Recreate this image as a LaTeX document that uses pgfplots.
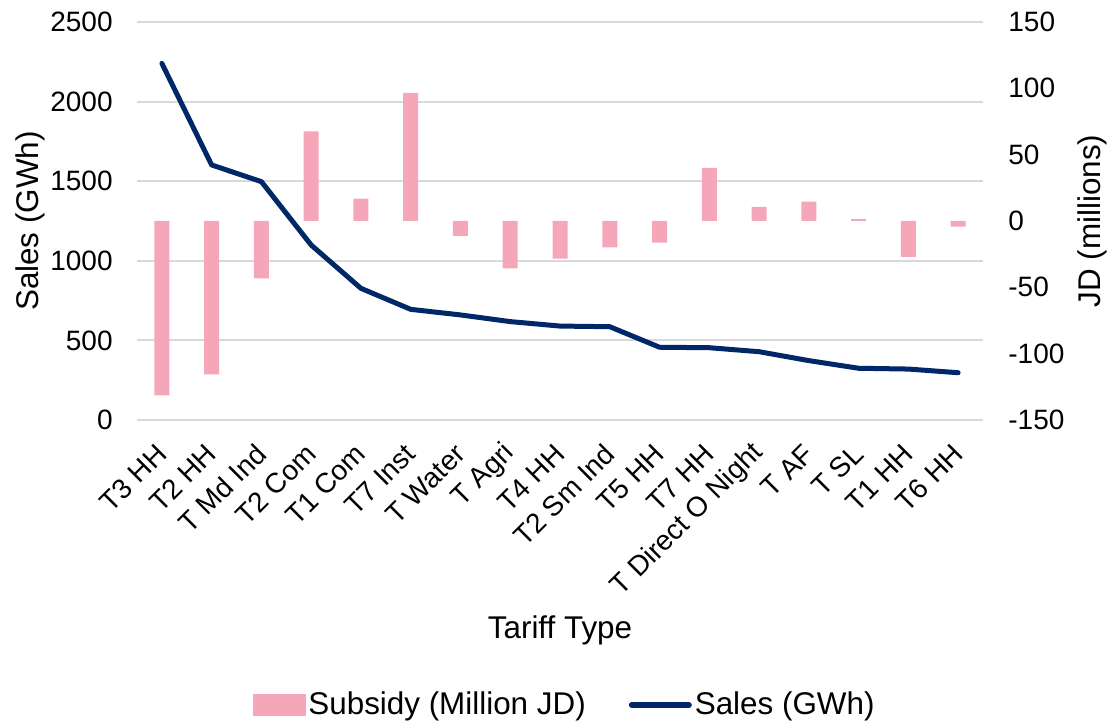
\documentclass[border=0pt]{standalone}
\usepackage{fontspec}
\setmainfont{Liberation Sans}
\usepackage{pgfplots}
\usepackage{pgfplotstable}
\pgfplotsset{compat=1.18}
\definecolor{subpink}{RGB}{245,167,185}
\definecolor{salesnavy}{RGB}{0,40,104}
\definecolor{gridgray}{RGB}{217,217,217}

\pgfplotstableread{
idx sales subsidy
0 2240 -131.4
1 1602 -115.6
2 1497 -43.2
3 1099 67.6
4 827 16.8
5 695 96.5
6 660 -11.3
7 618 -35.7
8 590 -28.4
9 586 -19.8
10 457 -16.3
11 454 40.0
12 429 10.6
13 373 14.6
14 325 1.5
15 320 -27.1
16 297 -4.3
}\datatable

\begin{document}
\begin{tikzpicture}
\useasboundingbox (0,0) rectangle (554.5pt,361pt);
\pgfplotsset{
  base/.style={
    at={(68.5pt,151pt)}, anchor=south west, scale only axis,
    width=423pt, height=199pt,
    xmin=-0.5, xmax=16.5,
    /pgf/number format/assume math mode=true,
    tick label style={font=\fontsize{14}{16}\selectfont},
    label style={font=\fontsize{15.7}{18}\selectfont},
    major tick length=0pt, minor tick length=0pt,
    axis line style={draw=none},
  }
}
% grid, left axis, x labels
\begin{axis}[base,
  ymin=0, ymax=2500,
  ytick={0,500,1000,1500,2000,2500},
  yticklabels={0,500,1000,1500,2000,2500},
  yticklabel style={anchor=east, inner sep=0pt, xshift=-12pt},
  ymajorgrids, grid style={gridgray, line width=1pt},
  xtick={0,...,16},
  xticklabels={T3 HH, T2 HH, T Md Ind, T2 Com, T1 Com, T7 Inst, T Water, T Agri, T4 HH, T2 Sm Ind, T5 HH, T7 HH, T Direct O Night, T AF, T SL, T1 HH, T6 HH},
  xticklabel shift=14.5pt,
  xticklabel style={rotate=45, anchor=east, inner sep=0pt},
  ylabel={Sales (GWh)},
  ylabel style={at={(axis description cs:-0.1265,0.5)}, anchor=center},
  xlabel={Tariff Type},
  xlabel style={at={(axis description cs:0.5,-0.5276)}, anchor=center},
]
\addplot[draw=none] table[x=idx, y=sales]{\datatable};
\end{axis}
% bars, right axis
\begin{axis}[base,
  ymin=-150, ymax=150,
  axis y line*=right, axis x line=none,
  ytick={-150,-100,-50,0,50,100,150},
  yticklabels={-150,-100,-50,0,50,100,150},
  yticklabel style={anchor=west, inner sep=0pt, xshift=12.5pt},
  ylabel={JD (millions)},
  ylabel style={at={(axis description cs:1.1288,0.5)}, anchor=center},
  ybar, bar width=7.5pt,
]
\addplot[fill=subpink, draw=none] table[x=idx, y=subsidy]{\datatable};
\end{axis}
% line + legend
\begin{axis}[base,
  ymin=0, ymax=2500,
  axis lines=none,
  legend columns=2,
  legend style={at={(0.506,-0.716)}, anchor=center, draw=none, fill=none,
    font=\fontsize{15.7}{18}\selectfont,
    nodes={inner sep=1.5pt},
    /tikz/every even column/.append style={column sep=20pt}},
  legend cell align=left,
]
\addlegendimage{legend image code/.code={\fill[subpink] (0pt,-5.25pt) rectangle (26pt,5.25pt);}}
\addlegendentry{Subsidy (Million JD)}
\addplot[salesnavy, line width=2.5pt, line join=round, line cap=round,
  legend image code/.code={\draw[salesnavy, line width=3pt, line cap=round] (0pt,0pt) -- (28.5pt,0pt);}]
  table[x=idx, y=sales]{\datatable};
\addlegendentry{Sales (GWh)}
\end{axis}
\end{tikzpicture}
\end{document}
